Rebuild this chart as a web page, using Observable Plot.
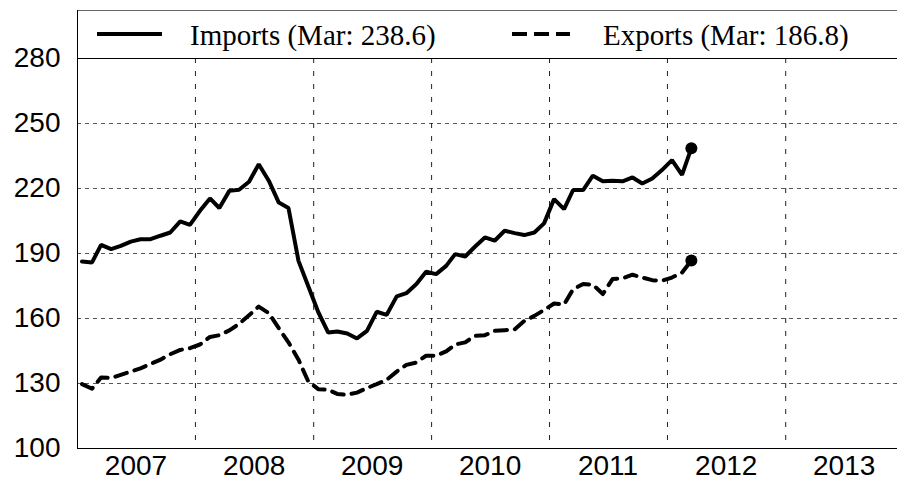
<!DOCTYPE html>
<html>
<head>
<meta charset="utf-8">
<script src="https://cdn.jsdelivr.net/npm/d3@7"></script>
<script src="https://cdn.jsdelivr.net/npm/@observablehq/plot@0.6"></script>
<style>
  body { margin: 0; background: #fff; overflow: hidden; }
  #wrap { position: relative; width: 897px; height: 482px; }
  #chart { position: absolute; left: 0; top: 0; }
  #legend { position: absolute; left: 0; top: 0; }
</style>
</head>
<body>
<div id="wrap">
  <div id="chart"></div>
  <svg id="legend" width="897" height="60"></svg>
</div>
<script>
// ---- Data (monthly, Jan 2007 – Mar 2012) ----
const startYear = 2007;
const imports = [
  186.3, 185.9, 194.0, 192.0, 193.5, 195.5, 196.6, 196.6, 198.2, 199.7, 204.8, 203.2,
  209.7, 215.4, 211.0, 218.9, 219.4, 223.1, 231.2, 223.6, 213.5, 211.0, 186.6, 175.0,
  163.0, 153.5, 154.0, 153.1, 150.8, 154.3, 163.1, 161.7, 170.2, 171.7, 175.9, 181.6,
  180.5, 184.3, 189.7, 188.6, 193.1, 197.4, 195.9, 200.5, 199.4, 198.5, 199.7, 203.9,
  215.1, 210.5, 219.3, 219.3, 225.9, 223.3, 223.6, 223.3, 225.1, 222.3, 224.6, 228.5,
  233.1, 226.3, 238.6
];
const exports = [
  129.7, 127.6, 132.8, 132.5, 134.0, 135.5, 137.0, 139.0, 141.0, 143.5, 145.5, 146.3,
  148.0, 151.5, 152.3, 154.5, 157.5, 161.5, 165.5, 162.5, 155.5, 149.0, 141.0, 131.0,
  127.4, 127.1, 125.2, 124.8, 125.8, 127.9, 129.7, 131.7, 135.5, 138.6, 139.7, 142.8,
  142.8, 144.8, 148.0, 149.0, 152.0, 152.3, 154.3, 154.6, 155.0, 158.9, 161.2, 163.9,
  166.9, 166.5, 173.5, 175.9, 175.6, 171.3, 178.2, 178.5, 180.2, 178.9, 177.7, 177.4,
  178.9, 181.2, 186.8
];
const seriesNames = ["Imports", "Exports"];
const legendLabels = ["Imports (Mar: 238.6)", "Exports (Mar: 186.8)"];
const yTicks = [100, 130, 160, 190, 220, 250, 280];
const yGridValues = [130, 160, 190, 220, 250];
const yearLabels = [2007, 2008, 2009, 2010, 2011, 2012, 2013];
const yearBoundaries = [2008, 2009, 2010, 2011, 2012, 2013];

// ---- Build tables ----
const monthDate = i => new Date(Date.UTC(startYear + Math.floor(i / 12), i % 12, 15));
const impRows = imports.map((v, i) => ({date: monthDate(i), value: v}));
const expRows = exports.map((v, i) => ({date: monthDate(i), value: v}));
const lastImp = impRows[impRows.length - 1];
const lastExp = expRows[expRows.length - 1];

const xStart = new Date(Date.UTC(2007, 0, 1));
const xEnd = new Date(Date.UTC(2013, 11, 13));

const chart = Plot.plot({
  width: 897,
  height: 482,
  marginLeft: 77,
  marginRight: 0,
  marginTop: 58,
  marginBottom: 34,
  style: {fontFamily: "'Liberation Sans', Arial, sans-serif", background: "#fff"},
  x: {type: "utc", domain: [xStart, xEnd]},
  y: {domain: [100, 280]},
  marks: [
    Plot.ruleY(yGridValues, {stroke: "#555", strokeWidth: 1, strokeDasharray: "4,4"}),
    Plot.ruleX(yearBoundaries.map(y => new Date(Date.UTC(y, 0, 1))), {stroke: "#222", strokeWidth: 1, strokeDasharray: "5,8"}),
    Plot.ruleY([100, 280], {stroke: "#000", strokeWidth: 1}),
    Plot.ruleX([xStart], {stroke: "#000", strokeWidth: 1}),
    Plot.line(impRows, {x: "date", y: "value", stroke: "#000", strokeWidth: 4, strokeLinejoin: "miter"}),
    Plot.line(expRows, {x: "date", y: "value", stroke: "#000", strokeWidth: 4, strokeDasharray: "12,8"}),
    Plot.dot([lastImp, lastExp], {x: "date", y: "value", r: 6, fill: "#000", stroke: "none"}),
    Plot.axisY({ticks: yTicks, tickSize: 0, tickPadding: 17, fontSize: 28, label: null}),
    Plot.axisX({ticks: yearLabels.map(y => new Date(Date.UTC(y, 6, 1))), tickFormat: d => String(d.getUTCFullYear()), tickSize: 0, tickPadding: 7, fontSize: 28, label: null})
  ]
});
document.getElementById("chart").appendChild(chart);

// ---- Legend box above plot area ----
const lg = d3.select("#legend");
lg.append("line").attr("x1", 77).attr("x2", 897).attr("y1", 10.5).attr("y2", 10.5).attr("stroke", "#666").attr("stroke-width", 1);
lg.append("line").attr("x1", 77.5).attr("x2", 77.5).attr("y1", 10).attr("y2", 58).attr("stroke", "#000").attr("stroke-width", 1);
const items = [
  {lx1: 97, lx2: 162, tx: 190, dash: null, label: legendLabels[0]},
  {lx1: 512, lx2: 570, tx: 603, dash: "15,7", label: legendLabels[1]}
];
items.forEach(it => {
  const l = lg.append("line").attr("x1", it.lx1).attr("x2", it.lx2).attr("y1", 34).attr("y2", 34)
    .attr("stroke", "#000").attr("stroke-width", 4);
  if (it.dash) l.attr("stroke-dasharray", it.dash);
  lg.append("text").attr("x", it.tx).attr("y", 45)
    .attr("font-family", "'Liberation Serif', 'Times New Roman', serif")
    .attr("font-size", 29).attr("fill", "#000").text(it.label);
});
</script>
</body>
</html>
